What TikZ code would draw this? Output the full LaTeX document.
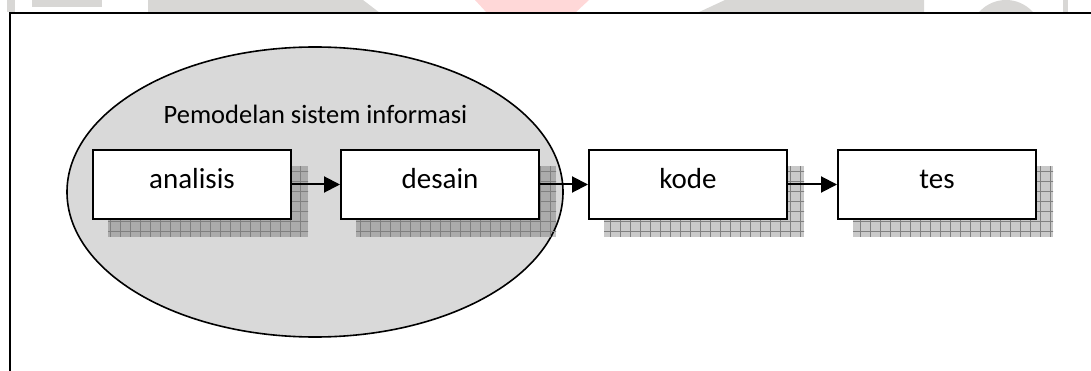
\documentclass[tikz,border=0pt]{standalone}
\usepackage{fontspec}
\setmainfont{Carlito}
\usetikzlibrary{arrows.meta,patterns.meta}

\definecolor{bubble}{RGB}{217,217,217}
\definecolor{markgray}{RGB}{216,215,213}
\definecolor{markpink}{RGB}{255,216,216}

\tikzset{
  stagebox/.style={draw=black, line width=2pt, fill=white,
    minimum width=198pt, minimum height=69pt, inner sep=0pt,
    text height=16.25pt, text depth=7.25pt,
    font=\fontsize{29}{34}\selectfont},
  flow/.style={line width=2pt, -{Triangle[length=16pt,width=16pt]}},
  shadowfill/.style={fill=black, fill opacity=0.21},
  shadowgrid/.style={pattern={Hatch[angle=0,distance=10pt,line width=0.8pt]},
    pattern color=black!50, fill opacity=0.22},
}

% drop shadow with a grid texture, offset down-right from a box
\newcommand\boxshadow[1]{%
  \path[shadowfill] ([shift={(16,17)}]#1.north west) rectangle ([shift={(16,17)}]#1.south east);
  \path[shadowgrid] ([shift={(16,17)}]#1.north west) rectangle ([shift={(16,17)}]#1.south east);
}

\begin{document}
\begin{tikzpicture}[x=1pt, y=-1pt]
  \useasboundingbox (0,0) rectangle (1091,371);

  % faint marks in the strip above the frame
  \begin{scope}
    \clip (0,0) rectangle (1091,12);
    \fill[markgray] (7,0) rectangle (15,13);
    \fill[markgray] (32,0) rectangle (102,7);
    \fill[markgray] (148,0) -- (363,0) -- (380,13) -- (148,13) -- cycle;
    \fill[markpink] (475,0) -- (589,0) -- (575,13) -- (487,13) -- cycle;
    \fill[markgray] (725,0) -- (924,0) -- (924,13) -- (697,13) -- cycle;
    \fill[markgray, even odd rule] (1006,36) circle (36) (1016,36) circle (24);
    \fill[markgray] (1063,0) rectangle (1068,13);
  \end{scope}

  % outer frame (runs past the right and bottom edges)
  \coordinate (fbl) at (10,371);
  \coordinate (ftl) at (10,13);
  \coordinate (ftr) at (1091,13);
  \draw[line width=2pt] (fbl) -- (ftl) -- (ftr);

  % grouping ellipse with its caption
  \draw[line width=1.6pt, fill=bubble] (315,192) ellipse [x radius=248, y radius=145];
  \node[anchor=base, font=\fontsize{26.5}{31}\selectfont] (title) at (315.5,124) {Pemodelan sistem informasi};

  % stage positions; shadows go underneath
  \coordinate (pa) at (192,184.5);
  \coordinate (pd) at (440,184.5);
  \coordinate (pk) at (688,184.5);
  \coordinate (pt) at (937,184.5);

  \path (pa) node[stagebox, draw=none, fill=none] (sa) {}
        (pd) node[stagebox, draw=none, fill=none] (sd) {}
        (pk) node[stagebox, draw=none, fill=none] (sk) {}
        (pt) node[stagebox, draw=none, fill=none] (st) {};
  \boxshadow{sa}
  \boxshadow{sd}
  \boxshadow{sk}
  \boxshadow{st}

  % stages
  \node[stagebox] (analisis) at (pa) {analisis};
  \node[stagebox] (desain)   at (pd) {desain};
  \node[stagebox] (kode)     at (pk) {kode};
  \node[stagebox] (tes)      at (pt) {tes};

  % flow arrows
  \draw[flow] (analisis) -- (desain);
  \draw[flow] (desain) -- (kode);
  \draw[flow] (kode) -- (tes);
\end{tikzpicture}
\end{document}
